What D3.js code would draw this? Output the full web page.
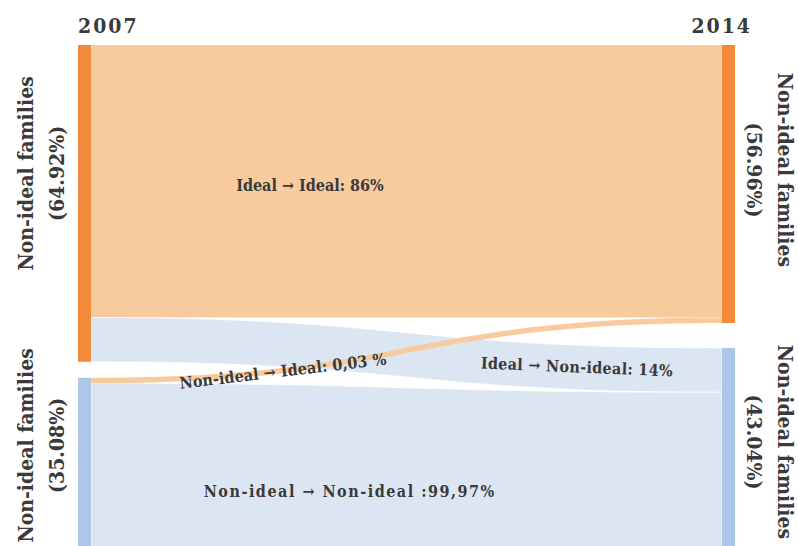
<!DOCTYPE html>
<html>
<head>
<meta charset="utf-8">
<script src="https://cdn.jsdelivr.net/npm/d3@7"></script>
<style>
  body { margin: 0; background: #fff; }
  svg { display: block; }
  text { font-family: "DejaVu Serif Condensed", "DejaVu Serif", serif; font-stretch: condensed; font-weight: bold; fill: #3a3a3a; }
</style>
</head>
<body>
<svg></svg>
<script>
'use strict';

// columns and groups
var years = ['2007', '2014'];
var groups = ['Ideal', 'Non-ideal'];
var nodeLabels = ['Non-ideal families', 'Non-ideal families'];

// share of families in each group (%)
var shares2007 = [64.92, 35.08];
var shares2014 = [56.96, 43.04];

// flows between the two years, as % of all families
var flowFrom = [0, 0, 1, 1];
var flowTo = [0, 1, 0, 1];
var flowValues = [55.83, 9.09, 1.13, 33.95];
var flowLabels = [
  'Ideal \u2192 Ideal: 86%',
  'Ideal \u2192 Non-ideal: 14%',
  'Non-ideal \u2192 Ideal: 0,03 %',
  'Non-ideal \u2192 Non-ideal :99,97%'
];

var width = 798;
var height = 546;
var topY = 45;
var nodeW = 13;
var colGap = [16, 25];

var nodeColor = ['#f28a3a', '#aec7e8'];
var flowColor = ['#f7cb9d', '#dce6f3'];

var svg = d3.select('svg')
  .attr('width', width)
  .attr('height', height);

// scales
var k = d3.scaleLinear().domain([0, 100]).range([0, 488]);
var x = d3.scaleLinear().domain([0, 1]).range([78, 722]);

// build node boxes per column
var shares = [shares2007, shares2014];
var nodes = [];
shares.forEach(function (col, c) {
  var y = topY;
  col.forEach(function (v, g) {
    var n = {col: c, group: g, value: v, x0: x(c), x1: x(c) + nodeW, y0: y, y1: y + k(v)};
    n.out = n.y0; n.in = n.y0;
    nodes.push(n);
    y = n.y1 + colGap[c];
  });
});
function node(c, g) { return nodes[c * groups.length + g]; }

// stack links on their nodes
var links = flowValues.map(function (v, i) {
  var s = node(0, flowFrom[i]), t = node(1, flowTo[i]);
  var h = k(v);
  var l = {i: i, target: flowTo[i], x0: s.x1, x1: t.x0,
           sy0: s.out, sy1: s.out + h, ty0: t.in, ty1: t.in + h};
  s.out += h; t.in += h;
  return l;
});

function ribbon(l) {
  var xm = (l.x0 + l.x1) / 2;
  var p = d3.path();
  p.moveTo(l.x0, l.sy0);
  p.bezierCurveTo(xm, l.sy0, xm, l.ty0, l.x1, l.ty0);
  p.lineTo(l.x1, l.ty1);
  p.bezierCurveTo(xm, l.ty1, xm, l.sy1, l.x0, l.sy1);
  p.closePath();
  return p.toString();
}

// point and angle on the midline of a link at horizontal fraction f
function along(l, f) {
  var lo = 0, hi = 1, t = 0.5;
  for (var n = 0; n < 40; n++) {
    t = (lo + hi) / 2;
    var fx = 1.5 * t * (1 - t) + t * t * t;
    if (fx < f) lo = t; else hi = t;
  }
  var e = 3 * (1 - t) * t * t + t * t * t;
  var a = (l.sy0 + l.sy1) / 2, b = (l.ty0 + l.ty1) / 2;
  var dx = (l.x1 - l.x0) * (1.5 * (1 - 2 * t) + 3 * t * t);
  var dy = (b - a) * 6 * t * (1 - t);
  return {x: l.x0 + f * (l.x1 - l.x0), y: a + (b - a) * e, angle: Math.atan2(dy, dx) * 180 / Math.PI};
}

var linksG = svg.append('g').attr('class', 'links');
var nodesG = svg.append('g').attr('class', 'nodes');
var labelsG = svg.append('g').attr('class', 'labels');

linksG.selectAll('path')
  .data([links[0], links[1], links[3], links[2]])
  .enter().append('path')
  .attr('d', ribbon)
  .attr('fill', function (d) { return flowColor[d.target]; })
  .attr('stroke', '#fff')
  .attr('stroke-width', function (d) { return d.target === 1 ? 0.8 : 0; })
  .attr('stroke-opacity', 0.8);

nodesG.selectAll('rect')
  .data(nodes)
  .enter().append('rect')
  .attr('x', function (d) { return d.x0; })
  .attr('y', function (d) { return d.y0; })
  .attr('width', nodeW)
  .attr('height', function (d) { return d.y1 - d.y0; })
  .attr('fill', function (d) { return nodeColor[d.group]; });

// years
svg.selectAll('text.year')
  .data(years)
  .enter().append('text')
  .attr('class', 'year')
  .attr('x', function (d, i) { return i ? x(i) + nodeW + 17 : x(i); })
  .attr('y', 33)
  .attr('text-anchor', function (d, i) { return i ? 'end' : 'start'; })
  .style('font-size', '21px')
  .style('letter-spacing', '2px')
  .text(function (d) { return d; });

// node labels, two lines, rotated along the bars
var labelShift = [[-30, -18], [-14, -11]];
nodes.forEach(function (n) {
  var cy = (n.y0 + n.y1) / 2 + labelShift[n.col][n.group];
  var pct = '(' + d3.format('.2f')(n.value) + '%)';
  var g = labelsG.append('g')
    .attr('transform', n.col === 0
      ? 'translate(0,' + cy + ') rotate(-90)'
      : 'translate(' + width + ',' + cy + ') rotate(90)');
  g.append('text').attr('text-anchor', 'middle').attr('y', n.col === 0 ? 33 : 20)
    .style('font-size', '21px').text(nodeLabels[n.group]);
  g.append('text').attr('text-anchor', 'middle').attr('y', n.col === 0 ? 64 : 51)
    .style('font-size', '21px').text(pct);
});

// flow labels
var flowLabelPos = [
  {f: 0.347, dy: 10, rot: false, ls: 0},
  {f: 0.77, dy: 5, rot: true, ls: 0.3},
  {f: 0.304, dy: 6, rot: true, ls: 0.1},
  {f: 0.41, dy: 28, rot: false, ls: 1.5}
];
links.forEach(function (l, i) {
  var p = along(l, flowLabelPos[i].f);
  labelsG.append('text')
    .attr('transform', 'translate(' + p.x + ',' + p.y + ') rotate(' + (flowLabelPos[i].rot ? p.angle : 0) + ')')
    .attr('y', flowLabelPos[i].dy)
    .attr('text-anchor', 'middle')
    .style('font-size', '16px')
    .style('letter-spacing', flowLabelPos[i].ls + 'px')
    .text(flowLabels[i]);
});
</script>
</body>
</html>
